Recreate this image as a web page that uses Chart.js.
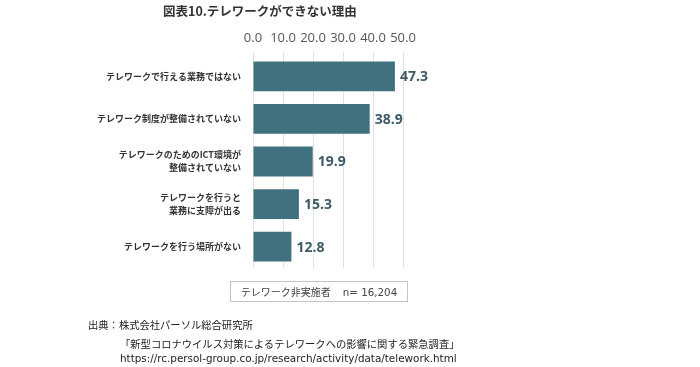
<!DOCTYPE html>
<html><head><meta charset="utf-8">
<script src="https://cdn.jsdelivr.net/npm/chart.js@4.4.1/dist/chart.umd.min.js"></script>
<style>
html,body{margin:0;padding:0;background:#fff;}
#wrap{position:relative;width:700px;height:367px;overflow:hidden;}
canvas{position:absolute;left:0;top:0;}
.t{position:absolute;white-space:nowrap;font-family:"Noto Sans CJK JP","Noto Sans",sans-serif;}
#title{left:163px;top:2px;font-size:12.5px;font-weight:700;color:#333;line-height:18px;}
#note{left:230px;top:281px;width:176px;height:19px;border:1px solid #c4c4c4;font-size:10px;color:#444;line-height:19px;text-align:center;}
#note .n{font-family:"DejaVu Sans",sans-serif;font-size:10.3px;margin-left:12px;}
.f{font-size:10.3px;color:#222;line-height:14px;}
#f1{left:88px;top:318px;}
#f2{left:120px;top:337px;}
#f3{left:120px;top:351px;font-family:"DejaVu Sans",sans-serif;font-size:10.4px;}
</style></head>
<body>
<div id="wrap">
<canvas id="c" width="700" height="367"></canvas>
<div class="t" id="title">図表10.テレワークができない理由</div>
<div class="t" id="note">テレワーク非実施者<span class="n">n= 16,204</span></div>
<div class="t f" id="f1">出典：株式会社パーソル総合研究所</div>
<div class="t f" id="f2">「新型コロナウイルス対策によるテレワークへの影響に関する緊急調査」</div>
<div class="t f" id="f3">https://rc.persol-group.co.jp/research/activity/data/telework.html</div>
</div>
<script>
const categories = [
  ['テレワークで行える業務ではない'],
  ['テレワーク制度が整備されていない'],
  ['テレワークのためのICT環境が', '整備されていない'],
  ['テレワークを行うと', '業務に支障が出る'],
  ['テレワークを行う場所がない']
];
const values = [47.3, 38.9, 19.9, 15.3, 12.8];
const tickValues = [0, 10, 20, 30, 40, 50];

const valueLabels = {
  id: 'valueLabels',
  afterDatasetsDraw(chart) {
    const ctx = chart.ctx;
    const meta = chart.getDatasetMeta(0);
    ctx.save();
    ctx.font = '700 14px "Open Sans", sans-serif';
    ctx.fillStyle = '#3d5a68';
    ctx.textAlign = 'left';
    ctx.textBaseline = 'middle';
    meta.data.forEach((bar, i) => {
      ctx.fillText(values[i].toFixed(1), bar.x + 5, bar.y + 1);
    });
    ctx.restore();
  }
};

new Chart(document.getElementById('c'), {
  type: 'bar',
  data: {
    labels: categories,
    datasets: [{
      data: values,
      backgroundColor: '#41707f',
      borderWidth: 0,
      barPercentage: 0.7,
      categoryPercentage: 1.0
    }]
  },
  options: {
    indexAxis: 'y',
    responsive: false,
    animation: false,
    devicePixelRatio: 1,
    layout: { padding: { left: 0, right: 297, top: 29, bottom: 99 } },
    plugins: { legend: { display: false }, tooltip: { enabled: false }, title: { display: false } },
    scales: {
      x: {
        position: 'top',
        min: 0, max: 50,
        afterFit(s) { s.height = 26; },
        afterBuildTicks(s) { s.ticks = tickValues.map(v => ({ value: v })); },
        ticks: {
          callback: v => Number(v).toFixed(1),
          color: '#555',
          font: { family: '"Open Sans", sans-serif', size: 13 },
          padding: 6,
          maxRotation: 0
        },
        grid: { color: '#e2e2e2', tickLength: 3, drawTicks: true },
        border: { display: false }
      },
      y: {
        afterFit(s) { s.width = 253; },
        ticks: {
          color: '#333',
          font: { family: '"Noto Sans CJK JP", sans-serif', size: 9, weight: '700', lineHeight: 1.45 },
          padding: 12
        },
        grid: { display: false, drawTicks: false },
        border: { display: false }
      }
    }
  },
  plugins: [valueLabels]
});
</script>
</body></html>
